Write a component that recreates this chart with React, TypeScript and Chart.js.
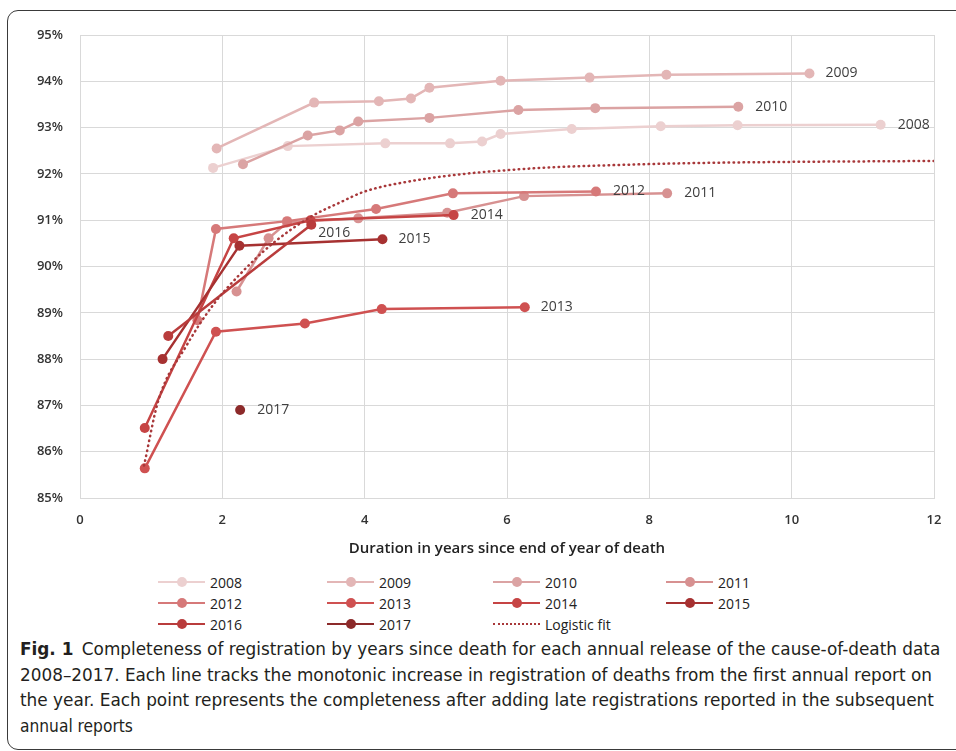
import React, { useEffect, useLayoutEffect, useRef } from 'react';
import { Chart, registerables } from 'chart.js';

Chart.register(...registerables);

// ---- Data ----
const seriesLabels = ['2008', '2009', '2010', '2011', '2012', '2013', '2014', '2015', '2016', '2017'];

const s2008x = [1.87, 2.92, 4.29, 5.2, 5.65, 5.91, 6.91, 8.16, 9.24, 11.25];
const s2008y = [92.13, 92.6, 92.66, 92.66, 92.7, 92.86, 92.97, 93.03, 93.05, 93.06];
const s2009x = [1.92, 3.29, 4.2, 4.65, 4.91, 5.91, 7.16, 8.24, 10.25];
const s2009y = [92.55, 93.54, 93.57, 93.63, 93.86, 94.01, 94.08, 94.14, 94.17];
const s2010x = [2.29, 3.2, 3.65, 3.91, 4.91, 6.16, 7.24, 9.25];
const s2010y = [92.21, 92.83, 92.94, 93.13, 93.21, 93.38, 93.42, 93.45];
const s2011x = [2.2, 2.65, 2.91, 3.91, 5.16, 6.24, 8.25];
const s2011y = [89.46, 90.61, 90.95, 91.04, 91.16, 91.52, 91.58];
const s2012x = [1.65, 1.91, 2.91, 4.16, 5.24, 7.25];
const s2012y = [88.84, 90.81, 90.98, 91.24, 91.58, 91.62];
const s2013x = [0.91, 1.91, 3.16, 4.24, 6.25];
const s2013y = [85.64, 88.59, 88.77, 89.08, 89.12];
const s2014x = [0.91, 2.16, 3.24, 5.25];
const s2014y = [86.51, 90.61, 91.0, 91.11];
const s2015x = [1.16, 2.24, 4.25];
const s2015y = [88.0, 90.45, 90.59];
const s2016x = [1.24, 3.25];
const s2016y = [88.5, 90.9];
const s2017x = [2.25];
const s2017y = [86.9];

const logisticX = [0.9, 1.1, 1.5, 1.87, 2.24, 2.71, 3.25, 3.65, 4.0, 4.6, 5.4, 6.0, 6.6, 7.5, 8.5, 10, 11, 12];
const logisticY = [85.7, 87.1, 88.3, 89.17, 89.82, 90.5, 91.08, 91.38, 91.62, 91.83, 92.0, 92.08, 92.14, 92.19, 92.23, 92.26, 92.27, 92.28];

const xTickValues = [0, 2, 4, 6, 8, 10, 12];
const yTickValues = [85, 86, 87, 88, 89, 90, 91, 92, 93, 94, 95];

const seriesX = [s2008x, s2009x, s2010x, s2011x, s2012x, s2013x, s2014x, s2015x, s2016x, s2017x];
const seriesY = [s2008y, s2009y, s2010y, s2011y, s2012y, s2013y, s2014y, s2015y, s2016y, s2017y];

// ---- Styles ----
const seriesColors = ['#ecd0d0', '#e3b6b6', '#dba3a3', '#d79191', '#d67979', '#cf5151', '#c64444', '#a63131', '#b93c3c', '#8c2a2a'];
const logisticColor = '#a8383a';
const endLabelOffsets: Record<string, [number, number]> = {
  '2008': [17, 0], '2009': [16, 0], '2010': [17, 0], '2011': [17, 0], '2012': [17, 0],
  '2013': [16, 0], '2014': [17, 0], '2015': [16, 0], '2016': [7, 8], '2017': [17, 0],
};

const endLabelPlugin = {
  id: 'endLabels',
  afterDatasetsDraw(chart: any) {
    const ctx = chart.ctx;
    ctx.save();
    ctx.font = '14px "Open Sans"';
    ctx.fillStyle = '#404040';
    ctx.textBaseline = 'middle';
    ctx.textAlign = 'left';
    chart.data.datasets.forEach((ds: any, i: number) => {
      const off = endLabelOffsets[ds.label];
      if (!off) return;
      const meta = chart.getDatasetMeta(i);
      const pt = meta.data[meta.data.length - 1];
      if (!pt) return;
      ctx.fillText(ds.label, pt.x + off[0], pt.y + off[1]);
    });
    ctx.restore();
  },
};

const legendItems = [
  ...seriesLabels.map((l, i) => ({ label: l, color: seriesColors[i], dotted: false })),
  { label: 'Logistic fit', color: logisticColor, dotted: true },
];
const legendCols = [158, 327, 493, 666];
const legendRows = [582, 603, 624];

const captionLines = [
  'Completeness of registration by years since death for each annual release of the cause-of-death data',
  '2008–2017. Each line tracks the monotonic increase in registration of deaths from the first annual report on',
  'the year. Each point represents the completeness after adding late registrations reported in the subsequent',
  'annual reports',
];
const captionTargets = [920, 912, 914, 113];

function ChartCanvas() {
  const ref = useRef<HTMLCanvasElement | null>(null);
  useEffect(() => {
    if (!ref.current) return;
    const datasets: any[] = seriesLabels.map((label, i) => ({
      label,
      data: seriesX[i].map((x, j) => ({ x, y: seriesY[i][j] })),
      borderColor: seriesColors[i],
      backgroundColor: seriesColors[i],
      pointBackgroundColor: seriesColors[i],
      pointBorderColor: seriesColors[i],
      pointRadius: 5,
      pointBorderWidth: 0,
      borderWidth: 2.5,
      showLine: true,
      order: 20 - i,
    }));
    datasets.push({
      label: 'Logistic fit',
      data: logisticX.map((x, j) => ({ x, y: logisticY[j] })),
      borderColor: logisticColor,
      backgroundColor: logisticColor,
      pointRadius: 0,
      borderWidth: 2.5,
      borderDash: [0.5, 4.5],
      borderCapStyle: 'round',
      cubicInterpolationMode: 'monotone',
      showLine: true,
      order: 0,
    });
    const tickFont = { family: '"Open Sans"', size: 13, weight: '600' as any };
    const chart = new Chart(ref.current, {
      type: 'scatter',
      data: { datasets },
      options: {
        animation: false,
        responsive: true,
        maintainAspectRatio: false,
        layout: { padding: { left: 0, right: 22, top: 35, bottom: 0 } },
        plugins: { legend: { display: false }, tooltip: { enabled: false } },
        scales: {
          x: {
            type: 'linear',
            min: 0,
            max: 12,
            afterBuildTicks: (s: any) => { s.ticks = xTickValues.map((v) => ({ value: v })); },
            ticks: { padding: 14, color: '#333', font: tickFont },
            grid: { color: '#d9d9d9', drawTicks: false, lineWidth: 1 },
            border: { color: '#d9d9d9' },
            title: {
              display: true,
              text: 'Duration in years since end of year of death',
              color: '#222',
              font: { family: '"Open Sans"', size: 15, weight: '600' as any },
              padding: 0,
            },
            afterFit: (s: any) => { s.height = 60; },
          },
          y: {
            type: 'linear',
            min: 85,
            max: 95,
            afterBuildTicks: (s: any) => { s.ticks = yTickValues.map((v) => ({ value: v })); },
            ticks: { padding: 17, color: '#333', font: tickFont, callback: (v: any) => `${v}%` },
            grid: { color: '#d9d9d9', drawTicks: false, lineWidth: 1 },
            border: { color: '#d9d9d9' },
            afterFit: (s: any) => { s.width = 80; },
          },
        },
      },
      plugins: [endLabelPlugin],
    });
    return () => chart.destroy();
  }, []);
  return (
    <div style={{ position: 'absolute', left: 0, top: 0, width: 956, height: 558 }}>
      <canvas ref={ref} />
    </div>
  );
}

function Caption() {
  const refs = useRef<(HTMLDivElement | null)[]>([]);
  useLayoutEffect(() => {
    refs.current.forEach((el, i) => {
      if (!el) return;
      const w = el.scrollWidth;
      if (w > 0) el.style.transform = `scaleX(${captionTargets[i] / w})`;
    });
  }, []);
  return (
    <div style={{ position: 'absolute', left: 20, top: 637, fontFamily: '"Liberation Sans Narrow", "DejaVu Sans Condensed", sans-serif', fontSize: 17.5, color: '#231f20', lineHeight: '25.5px' }}>
      {captionLines.map((line, i) => (
        <div
          key={i}
          ref={(el) => { refs.current[i] = el; }}
          style={{ whiteSpace: 'nowrap', display: 'inline-block', transformOrigin: 'left center', height: 25.5 }}
        >
          {i === 0 ? (<><b>Fig. 1</b>{'\u2002'}{line}</>) : line}
        </div>
      )).reduce((acc: any[], el, i) => (i === 0 ? [el] : [...acc, <br key={'b' + i} />, el]), [])}
    </div>
  );
}

export default function App() {
  return (
    <div style={{ position: 'absolute', left: 0, top: 0, width: 956, height: 751, overflow: 'hidden', background: '#fff' }}>
      <div style={{ position: 'absolute', left: 7, top: 10, width: 1000, height: 738, border: '1.3px solid #3a3a3a', borderRadius: 11 }} />
      <ChartCanvas />
      {legendItems.map((it, i) => {
        const col = i < 8 ? i % 4 : (i - 8);
        const row = Math.floor(i / 4);
        return (
          <div key={it.label} style={{ position: 'absolute', left: legendCols[col], top: legendRows[row] - 10, height: 20, display: 'flex', alignItems: 'center', fontFamily: '"Open Sans"', fontSize: 14, color: '#222' }}>
            <div style={{ position: 'relative', width: 47, height: 10 }}>
              {it.dotted ? (
                <div style={{ position: 'absolute', left: 0, right: 0, top: 4, borderTop: `2.5px dotted ${it.color}` }} />
              ) : (
                <>
                  <div style={{ position: 'absolute', left: 0, right: 0, top: 3.75, height: 2.5, background: it.color }} />
                  <div style={{ position: 'absolute', left: 18.5, top: 0, width: 10, height: 10, borderRadius: '50%', background: it.color }} />
                </>
              )}
            </div>
            <span style={{ marginLeft: 5 }}>{it.label}</span>
          </div>
        );
      })}
      <Caption />
    </div>
  );
}
